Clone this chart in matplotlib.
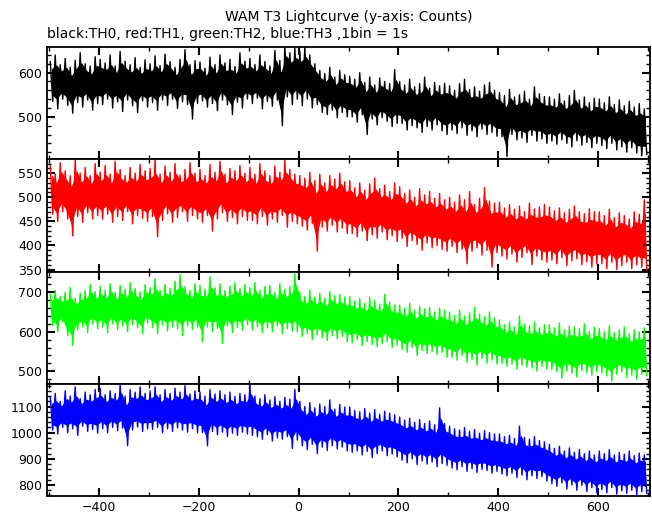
import numpy as np
import matplotlib
matplotlib.use('Agg')
import matplotlib.pyplot as plt
from matplotlib.ticker import MultipleLocator

plt.rcParams['font.family'] = ['DejaVu Sans']
plt.rcParams['font.size'] = 9

# 10 s bins from -500 s to 700 s; for each bin the highest and lowest 1 s count seen
bin_centers = np.arange(-495, 700, 10)

th0_hi = [625, 640, 618, 632, 612, 628, 645, 620, 615, 636,
          630, 622, 640, 615, 648, 626, 618, 634, 612, 629,
          620, 638, 616, 642, 625, 612, 630, 652, 618, 627,
          624, 610, 635, 618, 640, 622, 630, 614, 645, 626,
          632, 618, 640, 625, 615, 650, 628, 660, 645, 655,
          648, 658, 640, 620, 605, 598, 612, 590, 605, 595,
          592, 585, 600, 578, 590, 572, 588, 580, 575, 607,
          580, 572, 585, 568, 575, 590, 565, 578, 570, 576,
          570, 560, 575, 585, 562, 568, 558, 572, 578, 560,
          555, 548, 562, 545, 550, 558, 540, 568, 552, 546,
          545, 540, 552, 536, 548, 560, 538, 545, 532, 542,
          540, 532, 545, 528, 538, 525, 535, 522, 530, 518]
th0_lo = [535, 518, 540, 526, 508, 532, 522, 538, 515, 530,
          528, 540, 520, 534, 512, 538, 525, 510, 536, 522,
          532, 515, 538, 526, 540, 519, 534, 528, 495, 530,
          536, 522, 530, 514, 538, 527, 505, 533, 520, 540,
          530, 542, 518, 535, 524, 538, 480, 545, 528, 540,
          525, 540, 520, 528, 510, 505, 515, 498, 510, 500,
          500, 488, 505, 460, 495, 482, 498, 490, 478, 485,
          485, 470, 480, 475, 465, 478, 470, 482, 468, 460,
          470, 462, 475, 458, 468, 455, 472, 460, 465, 456,
          455, 410, 460, 448, 452, 442, 458, 445, 450, 440,
          445, 438, 448, 440, 432, 446, 436, 442, 430, 440,
          435, 428, 440, 425, 432, 420, 430, 418, 412, 415]

th1_hi = [565, 548, 572, 555, 545, 578, 550, 562, 545, 570,
          552, 566, 548, 575, 558, 545, 562, 550, 568, 555,
          560, 578, 548, 565, 552, 570, 546, 558, 572, 550,
          558, 545, 568, 552, 575, 548, 560, 555, 566, 550,
          562, 548, 570, 555, 545, 565, 552, 578, 558, 548,
          545, 540, 552, 535, 548, 530, 545, 538, 550, 532,
          535, 520, 530, 515, 528, 540, 518, 525, 512, 530,
          522, 508, 515, 500, 518, 505, 512, 498, 508, 495,
          500, 490, 505, 495, 512, 485, 498, 520, 492, 488,
          490, 478, 485, 475, 482, 470, 488, 476, 480, 485,
          480, 472, 478, 468, 475, 482, 470, 466, 476, 470,
          470, 462, 475, 458, 468, 462, 455, 470, 465, 495]
th1_lo = [465, 450, 470, 455, 420, 460, 448, 468, 455, 462,
          455, 465, 448, 460, 452, 470, 445, 462, 456, 450,
          460, 418, 452, 466, 448, 458, 470, 450, 462, 455,
          448, 462, 430, 455, 468, 450, 458, 445, 460, 452,
          452, 445, 460, 442, 455, 448, 462, 438, 450, 445,
          440, 432, 445, 388, 438, 430, 442, 428, 436, 425,
          425, 418, 430, 410, 422, 415, 428, 412, 420, 408,
          415, 398, 410, 402, 390, 405, 395, 400, 392, 388,
          398, 385, 392, 362, 388, 395, 380, 390, 355, 385,
          378, 372, 382, 365, 375, 385, 360, 378, 370, 365,
          370, 362, 375, 358, 368, 372, 360, 366, 355, 362,
          362, 352, 365, 350, 358, 365, 352, 360, 355, 348]

th2_hi = [695, 705, 690, 700, 712, 685, 698, 705, 720, 702,
          715, 705, 722, 700, 718, 708, 725, 710, 702, 720,
          712, 735, 705, 720, 710, 728, 745, 715, 705, 722,
          718, 708, 740, 712, 722, 705, 716, 725, 710, 720,
          712, 725, 705, 715, 718, 700, 722, 708, 715, 748,
          700, 690, 705, 688, 698, 685, 702, 692, 695, 688,
          690, 678, 685, 672, 688, 680, 670, 695, 675, 668,
          668, 660, 672, 655, 665, 658, 662, 650, 660, 655,
          650, 642, 655, 640, 648, 662, 645, 638, 650, 635,
          630, 618, 625, 612, 640, 620, 615, 625, 610, 618,
          618, 610, 622, 605, 615, 612, 608, 620, 602, 612,
          608, 600, 615, 598, 605, 612, 595, 605, 600, 610]
th2_lo = [615, 600, 625, 590, 565, 605, 612, 598, 620, 608,
          612, 598, 620, 605, 615, 600, 618, 610, 595, 622,
          610, 595, 618, 602, 612, 608, 590, 615, 605, 612,
          575, 612, 600, 608, 570, 615, 598, 610, 604, 618,
          605, 612, 598, 610, 600, 615, 595, 608, 602, 600,
          588, 595, 580, 592, 585, 578, 590, 582, 588, 575,
          572, 580, 565, 575, 568, 562, 570, 575, 560, 566,
          555, 548, 560, 540, 552, 545, 550, 542, 548, 535,
          535, 528, 540, 522, 530, 515, 532, 520, 528, 518,
          520, 512, 518, 505, 515, 510, 508, 500, 512, 505,
          505, 498, 482, 500, 495, 485, 502, 495, 490, 498,
          495, 488, 475, 492, 498, 485, 490, 480, 492, 488]

th3_hi = [1135, 1150, 1120, 1160, 1140, 1175, 1130, 1155, 1145, 1165,
          1170, 1145, 1160, 1150, 1185, 1140, 1165, 1155, 1175, 1150,
          1160, 1175, 1145, 1165, 1150, 1170, 1155, 1180, 1148, 1160,
          1155, 1140, 1165, 1148, 1160, 1145, 1155, 1138, 1150, 1145,
          1185, 1140, 1130, 1145, 1125, 1138, 1120, 1135, 1128, 1165,
          1120, 1100, 1115, 1095, 1110, 1100, 1125, 1090, 1108, 1098,
          1098, 1085, 1080, 1092, 1075, 1088, 1070, 1082, 1075, 1068,
          1060, 1048, 1055, 1040, 1050, 1035, 1045, 1030, 1095, 1035,
          1025, 1015, 1010, 1020, 1005, 1012, 998, 1008, 1000, 995,
          995, 985, 990, 978, 1025, 982, 975, 985, 970, 965,
          955, 940, 948, 930, 942, 925, 935, 920, 930, 915,
          930, 920, 935, 915, 925, 918, 930, 912, 922, 915]
th3_lo = [1010, 995, 1020, 1000, 1015, 990, 1025, 1005, 1012, 998,
          1015, 1000, 1020, 1008, 1018, 950, 1010, 1022, 1005, 1015,
          1012, 1020, 1000, 1015, 1005, 1018, 1010, 1002, 1015, 1000,
          1000, 950, 1005, 992, 1002, 985, 998, 990, 1002, 995,
          990, 985, 975, 992, 968, 980, 975, 985, 940, 972,
          950, 935, 955, 920, 945, 932, 950, 938, 945, 930,
          925, 930, 915, 928, 905, 920, 930, 912, 918, 908,
          895, 885, 900, 878, 892, 880, 888, 870, 882, 875,
          865, 858, 870, 852, 862, 848, 860, 855, 845, 852,
          842, 835, 845, 828, 838, 820, 835, 825, 832, 815,
          805, 795, 808, 785, 800, 780, 798, 775, 790, 770,
          782, 770, 790, 765, 778, 768, 780, 762, 775, 768]

channels = [
    (th0_hi, th0_lo, 'black', (404, 658), 100, 20),
    (th1_hi, th1_lo, 'red', (346, 579), 50, 10),
    (th2_hi, th2_lo, '#00ff00', (468, 753), 100, 20),
    (th3_hi, th3_lo, 'blue', (758, 1187), 100, 20),
]

fig = plt.figure(figsize=(6.52, 5.15), dpi=100)
gs = fig.add_gridspec(4, 1, left=47 / 652, right=650 / 652,
                      top=1 - 47 / 515, bottom=1 - 496 / 515, hspace=0)

axes = []
for i, (hi, lo, color, ylim, major, minor) in enumerate(channels):
    ax = fig.add_subplot(gs[i], sharex=axes[0] if axes else None)
    hi = np.asarray(hi, float)
    lo = np.asarray(lo, float)
    # solid core of each bin (inner part of its min-max range)
    spread = hi - lo
    ax.fill_between(bin_centers, lo + 0.18 * spread, hi - 0.18 * spread,
                    color=color, lw=0)
    # zigzag between bin max and min for the spikes
    x = np.column_stack([bin_centers - 2.5, bin_centers + 2.5]).ravel()
    y = np.column_stack([hi, lo]).ravel()
    ax.plot(x, y, color=color, lw=1.0)
    ax.set_ylim(*ylim)
    ax.yaxis.set_major_locator(MultipleLocator(major))
    ax.yaxis.set_minor_locator(MultipleLocator(minor))
    ax.tick_params(which='both', direction='in', top=True, right=True, labelsize=9)
    ax.tick_params(which='major', length=6, width=1.5)
    ax.tick_params(which='minor', length=3, width=1)
    for sp in ax.spines.values():
        sp.set_linewidth(1.3)
    if i < 3:
        ax.tick_params(labelbottom=False)
    axes.append(ax)

axes[0].set_xlim(-504, 704)
axes[0].xaxis.set_major_locator(MultipleLocator(200))
axes[0].xaxis.set_minor_locator(MultipleLocator(100))
axes[3].tick_params(labelbottom=True)
axes[3].xaxis.set_major_formatter(plt.FuncFormatter(lambda v, p: f'{v:.0f}'.replace('-', '\u2212')))

fig.text(348.5 / 652, 1 - 17 / 515, 'WAM T3 Lightcurve (y-axis: Counts)',
         ha='center', va='center', fontsize=10)
fig.text(47 / 652, 1 - 34 / 515, 'black:TH0, red:TH1, green:TH2, blue:TH3 ,1bin = 1s',
         ha='left', va='center', fontsize=10)

fig.savefig('out.png', dpi=100)
